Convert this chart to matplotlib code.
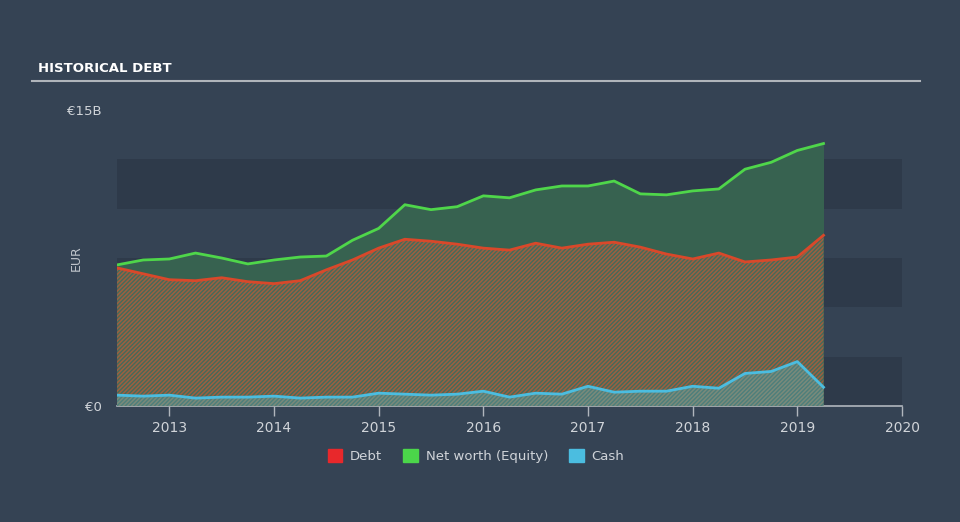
import matplotlib
matplotlib.use("Agg")
import matplotlib.pyplot as plt
from matplotlib.patches import Patch

plt.rcParams['hatch.linewidth'] = 1.1

# quarterly dates (decimal years) and values in EUR billions
dates = [2012.5 + 0.25 * i for i in range(28)]
equity = [7.15, 7.4, 7.45, 7.75, 7.5, 7.2, 7.4, 7.55, 7.6, 8.4, 9.0, 10.2, 9.95, 10.1,
          10.65, 10.55, 10.95, 11.15, 11.15, 11.4, 10.75, 10.7, 10.9, 11.0, 12.0, 12.35, 12.95, 13.3]
debt = [7.0, 6.7, 6.4, 6.35, 6.5, 6.3, 6.2, 6.35, 6.9, 7.4, 8.0, 8.45, 8.35, 8.2,
        8.0, 7.9, 8.25, 8.0, 8.2, 8.3, 8.05, 7.7, 7.45, 7.75, 7.3, 7.4, 7.55, 8.65]
cash = [0.55, 0.5, 0.55, 0.4, 0.45, 0.45, 0.5, 0.4, 0.45, 0.45, 0.65, 0.6, 0.55, 0.6,
        0.75, 0.45, 0.65, 0.6, 1.0, 0.7, 0.75, 0.75, 1.0, 0.9, 1.65, 1.75, 2.25, 0.95]
year_ticks = [2013, 2014, 2015, 2016, 2017, 2018, 2019, 2020]

bg = '#354354'
fig = plt.figure(figsize=(9.6, 5.22), dpi=100, facecolor=bg)
ax = fig.add_axes([117 / 960, 116 / 522, 785 / 960, 296 / 522])
ax.set_facecolor(bg)

# alternating background bands
for lo in [0, 5, 10]:
    ax.axhspan(lo, lo + 2.5, color='#2e3a4a', zorder=0, lw=0)

# equity fill
ax.fill_between(dates, 0, equity, color='#376250', lw=0, zorder=1)
ax.plot(dates, equity, color='#4fd64a', lw=2, zorder=5)

# debt fill (hatched)
ax.fill_between(dates, 0, debt, facecolor='#456b5a', edgecolor='#9c5f40',
                hatch='/' * 8, lw=0, zorder=2)
ax.plot(dates, debt, color='#d9482a', lw=2, zorder=5)

# cash fill (hatched)
ax.fill_between(dates, 0, cash, facecolor='#4d7f7c', edgecolor='#7a8a7a',
                hatch='/' * 8, lw=0, zorder=3)
ax.plot(dates, cash, color='#4bbde0', lw=2, zorder=5)

ax.set_xlim(2012.5, 2020)
ax.set_ylim(0, 15)
ax.set_xticks(year_ticks)
ax.set_xticklabels([str(y) for y in year_ticks], color='#d0d4d9', fontsize=10)
ax.tick_params(axis='x', length=7, color='#b0b6bd', width=1, pad=4)
ax.set_yticks([0, 15])
ax.set_yticklabels(['€0', '€15B'], color='#d0d4d9', fontsize=9.5)
ax.tick_params(axis='y', length=0, pad=11)
for s in ['top', 'right', 'left']:
    ax.spines[s].set_visible(False)
ax.spines['bottom'].set_color('#b0b6bd')
ax.spines['bottom'].set_linewidth(1.2)
fig.text(76 / 960, 1 - 258 / 522, 'EUR', color='#c0c5cb', fontsize=9,
         rotation=90, ha='center', va='center')

# title and rule
fig.text(38 / 960, 1 - 68 / 522, 'HISTORICAL DEBT', color='white', fontsize=9.5,
         fontweight='bold', va='center', ha='left')
fig.add_artist(plt.Line2D([32 / 960, 920 / 960], [1 - 81 / 522, 1 - 81 / 522],
                          color='#b0b5bb', lw=1.5))

handles = [Patch(color='#e8282b', label='Debt'),
           Patch(color='#4bd64a', label='Net worth (Equity)'),
           Patch(color='#4bbde0', label='Cash')]
leg = fig.legend(handles=handles, loc='center', bbox_to_anchor=(476 / 960, 1 - 456 / 522),
                 ncol=3, frameon=False, fontsize=9.5, handlelength=1.1, handleheight=1.1,
                 columnspacing=1.6, handletextpad=0.6)
for t in leg.get_texts():
    t.set_color('#d0d4d9')

fig.savefig('out.png', dpi=100, facecolor=bg)
